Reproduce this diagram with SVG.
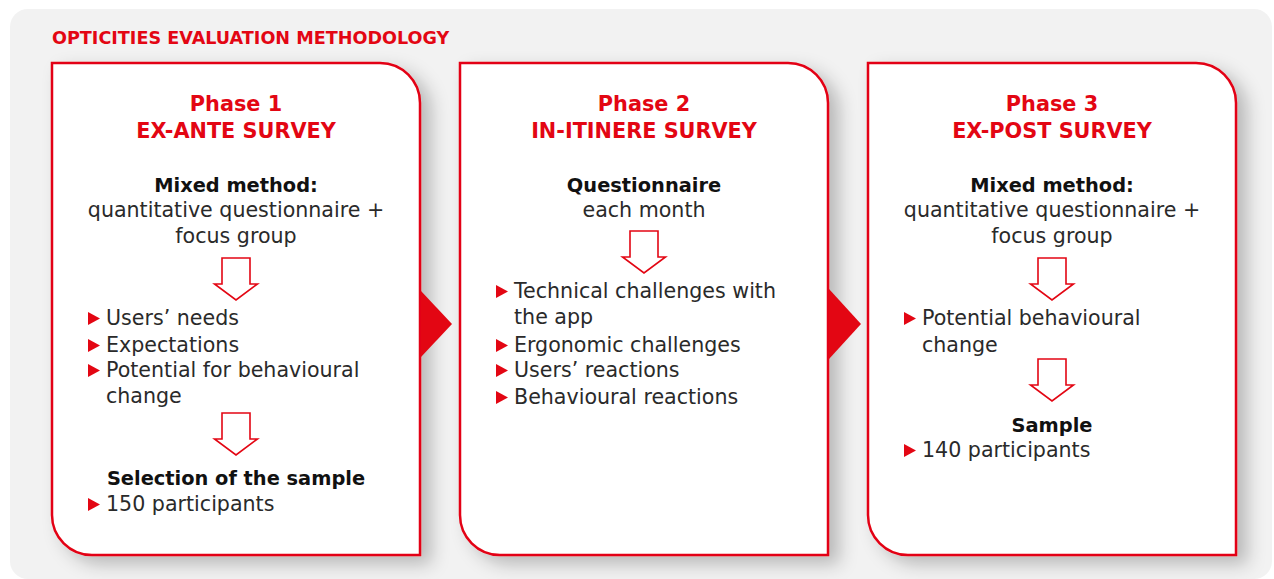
<svg xmlns="http://www.w3.org/2000/svg" width="1274" height="579" viewBox="0 0 1274 579">
<style>
.title{font-family:"DejaVu Sans",sans-serif;font-weight:bold;font-size:17.6px;fill:#e30613}
.ph{font-family:"DejaVu Sans",sans-serif;font-weight:bold;font-size:20.8px;fill:#e30613;text-anchor:middle}
.b{font-family:"DejaVu Sans",sans-serif;font-weight:bold;font-size:19.4px;fill:#111;text-anchor:middle}
.t{font-family:"DejaVu Sans",sans-serif;font-size:20.6px;fill:#2a2a2a}
.c{text-anchor:middle}
.card{fill:#fff;stroke:#e30613;stroke-width:2.5}
.harrow{fill:#fff;stroke:#e30613;stroke-width:1.6}
.bul{fill:#e30613}
.conn{fill:#e30613}
</style>
<defs>
<filter id="sh" x="-10%" y="-10%" width="135%" height="135%">
<feDropShadow dx="10" dy="8" stdDeviation="9" flood-color="#000" flood-opacity="0.24"/>
</filter>
<path id="ha" d="M-14,0 H14 V26 H21.5 L0,42 L-21.5,26 H-14 Z"/>
<polygon id="tri" points="0,0 12,6.5 0,13"/>
</defs>
<rect x="10" y="9" width="1262" height="570" rx="18" fill="#f2f2f2"/>
<text class="title" x="52" y="44">OPTICITIES EVALUATION METHODOLOGY</text>

<g id="phase1">
<path class="card" filter="url(#sh)" d="M52,63 H380 A40,40 0 0 1 420,103 V555 H92 A40,40 0 0 1 52,515 Z"/>
<text class="ph" x="236" y="111">Phase 1</text>
<text class="ph" x="236" y="138">EX-ANTE SURVEY</text>
<text class="b" x="236" y="192">Mixed method:</text>
<text class="t c" x="236" y="217">quantitative questionnaire +</text>
<text class="t c" x="236" y="243">focus group</text>
<use href="#ha" x="236" y="258" class="harrow"/>
<use href="#tri" x="88" y="312" class="bul"/>
<text class="t" x="106" y="325">Users’ needs</text>
<use href="#tri" x="88" y="339" class="bul"/>
<text class="t" x="106" y="352">Expectations</text>
<use href="#tri" x="88" y="364" class="bul"/>
<text class="t" x="106" y="377">Potential for behavioural</text>
<text class="t" x="106" y="403">change</text>
<use href="#ha" x="236" y="413" class="harrow"/>
<text class="b" x="236" y="485">Selection of the sample</text>
<use href="#tri" x="88" y="498" class="bul"/>
<text class="t" x="106" y="511">150 participants</text>
</g>

<g id="phase2">
<path class="card" filter="url(#sh)" d="M460,63 H788 A40,40 0 0 1 828,103 V555 H500 A40,40 0 0 1 460,515 Z"/>
<text class="ph" x="644" y="111">Phase 2</text>
<text class="ph" x="644" y="138">IN-ITINERE SURVEY</text>
<text class="b" x="644" y="192">Questionnaire</text>
<text class="t c" x="644" y="217">each month</text>
<use href="#ha" x="644" y="231" class="harrow"/>
<use href="#tri" x="496" y="285" class="bul"/>
<text class="t" x="514" y="298">Technical challenges with</text>
<text class="t" x="514" y="324">the app</text>
<use href="#tri" x="496" y="339" class="bul"/>
<text class="t" x="514" y="352">Ergonomic challenges</text>
<use href="#tri" x="496" y="364" class="bul"/>
<text class="t" x="514" y="377">Users’ reactions</text>
<use href="#tri" x="496" y="391" class="bul"/>
<text class="t" x="514" y="404">Behavioural reactions</text>
</g>

<g id="phase3">
<path class="card" filter="url(#sh)" d="M868,63 H1196 A40,40 0 0 1 1236,103 V555 H908 A40,40 0 0 1 868,515 Z"/>
<text class="ph" x="1052" y="111">Phase 3</text>
<text class="ph" x="1052" y="138">EX-POST SURVEY</text>
<text class="b" x="1052" y="192">Mixed method:</text>
<text class="t c" x="1052" y="217">quantitative questionnaire +</text>
<text class="t c" x="1052" y="243">focus group</text>
<use href="#ha" x="1052" y="258" class="harrow"/>
<use href="#tri" x="904" y="312" class="bul"/>
<text class="t" x="922" y="325">Potential behavioural</text>
<text class="t" x="922" y="352">change</text>
<use href="#ha" x="1052" y="359" class="harrow"/>
<text class="b" x="1052" y="432">Sample</text>
<use href="#tri" x="904" y="444" class="bul"/>
<text class="t" x="922" y="457">140 participants</text>
</g>

<g id="connectors">
<polygon class="conn" points="421,291 452,324 421,357"/>
<polygon class="conn" points="829,289 861,324 829,359"/>
</g>
</svg>
